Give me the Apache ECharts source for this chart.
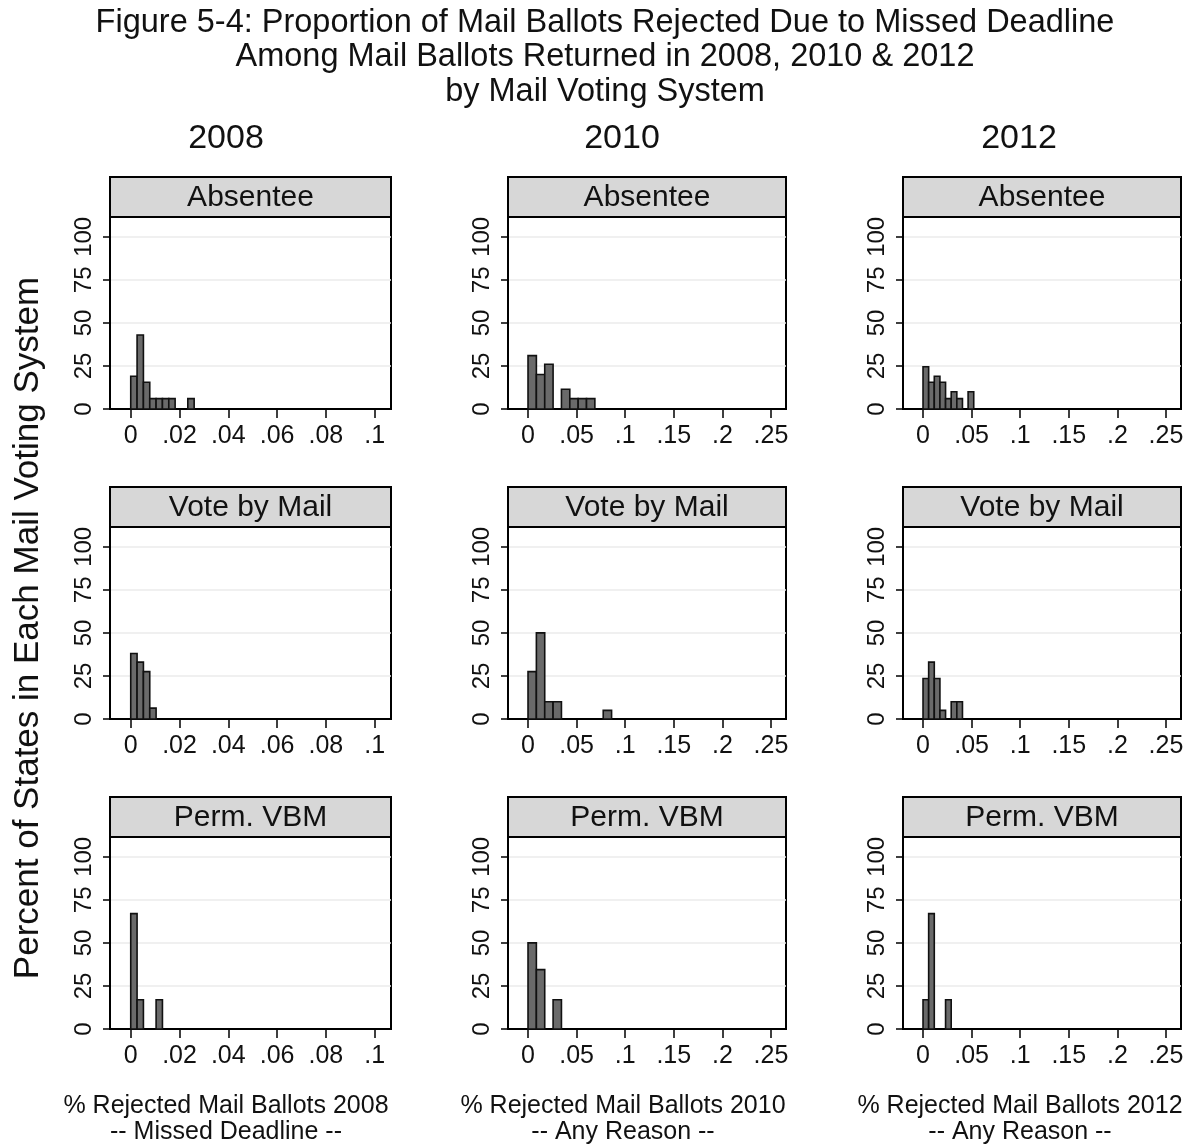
<!DOCTYPE html>
<html>
<head>
<meta charset="utf-8">
<script src="https://cdn.jsdelivr.net/npm/echarts@6/dist/echarts.min.js"></script>
<style>
  html, body { margin: 0; background: #fff; }
  #main { width: 1188px; height: 1146px; }
</style>
</head>
<body>
<div id="main"></div>
<script>
// bin edges, shared by the three panels of each year (Stata by() histogram)
const edges2008 = [0, 0.0026, 0.0052, 0.0078, 0.0104, 0.013, 0.0156, 0.0182, 0.0208, 0.0234, 0.026];
const edges2010 = [0, 0.0086, 0.0172, 0.0258, 0.0344, 0.043, 0.0516, 0.0602, 0.0688, 0.0774, 0.086];
const edges2012 = [0, 0.0058, 0.0116, 0.0174, 0.0232, 0.029, 0.0348, 0.0406, 0.0464, 0.0522, 0.058];

// percent of states in each bin
const absentee2008 = [19, 43, 15.5, 6, 6, 6, 6, 0, 0, 6];
const vbm2008      = [38, 33, 27.5, 6.3, 0, 0, 0, 0, 0, 0];
const perm2008     = [67, 17, 0, 0, 17, 0, 0, 0, 0, 0];

const absentee2010 = [31, 20, 26, 0, 11.5, 6, 6, 6, 0, 0];
const vbm2010      = [27.5, 50, 10, 10, 0, 0, 0, 0, 0, 5];
const perm2010     = [50, 34.5, 0, 17, 0, 0, 0, 0, 0, 0];

const absentee2012 = [24.5, 15.5, 19, 15.5, 6, 10, 6, 0, 10, 0];
const vbm2012      = [23.5, 33, 23.5, 5, 0, 10, 10, 0, 0, 0];
const perm2012     = [17, 67, 0, 0, 17, 0, 0, 0, 0, 0];

const years = ['2008', '2010', '2012'];
const systems = ['Absentee', 'Vote by Mail', 'Perm. VBM'];
const xTicks2008 = [0, 0.02, 0.04, 0.06, 0.08, 0.1];
const xTicksLater = [0, 0.05, 0.1, 0.15, 0.2, 0.25];
const yTicks = [0, 25, 50, 75, 100];
const xTitles = ['% Rejected Mail Ballots 2008', '% Rejected Mail Ballots 2010', '% Rejected Mail Ballots 2012'];
const xSubTitles = ['-- Missed Deadline --', '-- Any Reason --', '-- Any Reason --'];

const columns = [
  { edges: edges2008, panels: [absentee2008, vbm2008, perm2008], ticks: xTicks2008, min: -0.0085, max: 0.1067 },
  { edges: edges2010, panels: [absentee2010, vbm2010, perm2010], ticks: xTicksLater, min: -0.0206, max: 0.2655 },
  { edges: edges2012, panels: [absentee2012, vbm2012, perm2012], ticks: xTicksLater, min: -0.0206, max: 0.2655 }
];

// layout (px)
const colLeft = [110, 508, 903];
const colWidth = [281, 278, 278];
const rowTop = [217, 527, 837];
const plotH = 192;
const stripH = 40;
const font = '"Liberation Sans", Arial, Helvetica, sans-serif';

const chart = echarts.init(document.getElementById('main'));

const grids = [], xAxes = [], yAxes = [], series = [], graphics = [];

const fmtX = v => (v === 0 ? '0' : String(v).replace(/^0\./, '.'));

columns.forEach((col, c) => {
  col.panels.forEach((heights, r) => {
    const idx = grids.length;
    grids.push({
      left: colLeft[c], top: rowTop[r], width: colWidth[c], height: plotH,
      show: true, borderColor: '#000', borderWidth: 2, backgroundColor: '#fff'
    });
    xAxes.push({
      type: 'value', gridIndex: idx, min: col.min, max: col.max,
      axisLine: { show: true, onZero: false, lineStyle: { color: '#000', width: 2 } },
      axisTick: { show: true, length: 9, customValues: col.ticks, lineStyle: { color: '#000', width: 1.5 } },
      axisLabel: { customValues: col.ticks, formatter: fmtX, color: '#111', fontSize: 25, fontFamily: font, margin: 15 },
      splitLine: { show: false }
    });
    yAxes.push({
      type: 'value', gridIndex: idx, min: 0, max: 111.5,
      axisLine: { show: true, onZero: false, lineStyle: { color: '#000', width: 2 } },
      axisTick: { show: true, length: 7, customValues: yTicks, lineStyle: { color: '#000', width: 1.5 } },
      axisLabel: { customValues: yTicks, rotate: 90, color: '#111', fontSize: 24, fontFamily: font, margin: 14 },
      splitLine: { show: true, lineStyle: { color: '#ebebeb', width: 1.5 } }
    });
    const data = [];
    heights.forEach((h, i) => {
      if (h > 0) data.push([col.edges[i], col.edges[i + 1], h]);
    });
    series.push({
      type: 'custom', xAxisIndex: idx, yAxisIndex: idx,
      encode: { x: [0, 1], y: 2 },
      data: data,
      renderItem: (params, api) => {
        const p0 = api.coord([api.value(0), 0]);
        const p1 = api.coord([api.value(1), api.value(2)]);
        return {
          type: 'rect',
          shape: { x: p0[0], y: p1[1], width: p1[0] - p0[0], height: p0[1] - p1[1] },
          style: { fill: '#6a6a6a', stroke: '#111', lineWidth: 1.6 }
        };
      }
    });
    // strip header
    graphics.push({
      type: 'rect', z: 10,
      shape: { x: colLeft[c], y: rowTop[r] - stripH, width: colWidth[c], height: stripH },
      style: { fill: '#d7d7d7', stroke: '#000', lineWidth: 2 }
    });
    graphics.push({
      type: 'text', z: 11,
      x: colLeft[c] + colWidth[c] / 2, y: rowTop[r] - stripH / 2 + 1,
      style: { text: systems[r], font: '30px ' + font, fill: '#111',
        align: 'center', verticalAlign: 'middle', textAlign: 'center', textVerticalAlign: 'middle' }
    });
  });
});

function label(text, x, y, size, rotation) {
  graphics.push({
    type: 'text', x: x, y: y, rotation: rotation || 0,
    style: { text: text, font: size + 'px ' + font, fill: '#111',
      align: 'center', verticalAlign: 'middle', textAlign: 'center', textVerticalAlign: 'middle' }
  });
}

// main title
label('Figure 5-4: Proportion of Mail Ballots Rejected Due to Missed Deadline', 605, 23, 32.5);
label('Among Mail Ballots Returned in 2008, 2010 & 2012', 605, 57, 32.5);
label('by Mail Voting System', 605, 92, 32.5);

// column titles and x titles
const yearX = [226, 622, 1019];
const xTitleX = [226, 623, 1020];
years.forEach((y, c) => {
  label(y, yearX[c], 139, 34);
  label(xTitles[c], xTitleX[c], 1106, 25);
  label(xSubTitles[c], xTitleX[c], 1132, 25);
});

// shared y title
label('Percent of States in Each Mail Voting System', 28, 628, 35, Math.PI / 2);

chart.setOption({
  backgroundColor: '#fff',
  animation: false,
  grid: grids,
  xAxis: xAxes,
  yAxis: yAxes,
  series: series,
  graphic: graphics
});
</script>
</body>
</html>
